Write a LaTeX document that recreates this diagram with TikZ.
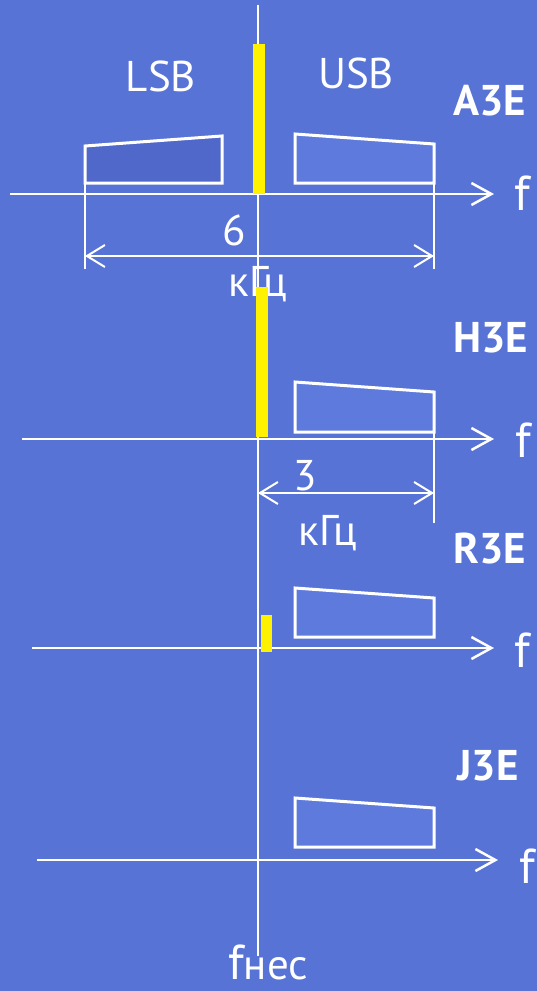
\documentclass[tikz,border=0pt]{standalone}
\usepackage{fontspec}
\setmainfont{PT Sans}
\usetikzlibrary{arrows.meta}
\definecolor{bg}{RGB}{88,115,214}
\definecolor{lsbfill}{RGB}{79,104,201}
\definecolor{usbfill}{RGB}{94,122,220}
\begin{document}
\begin{tikzpicture}[x=1pt,y=-1pt,
  lbl/.style={text=white,font=\fontsize{43}{43}\selectfont,inner sep=0pt,anchor=base},
  flbl/.style={text=white,font=\fontsize{49}{49}\selectfont,inner sep=0pt,anchor=base},
  mode/.style={text=white,font=\bfseries\fontsize{43}{43}\selectfont,inner sep=0pt,anchor=base},
  axis/.style={white,line width=2.5pt,-{Straight Barb[length=20pt,width=22pt]}},
  dim/.style={white,line width=2pt,{Straight Barb[length=18pt,width=22pt]}-{Straight Barb[length=18pt,width=22pt]}},
  ext/.style={white,line width=2pt},
  band/.style={draw=white,line width=3pt,line join=miter},
  carrier/.style={fill=yellow,draw=none}]
\fill[bg] (0,0) rectangle (537,991);
\useasboundingbox (0,0) rectangle (537,991);

% texts
\node[lbl] (lsb) at (161,91) {LSB};
\node[lbl] (usb) at (356,88) {USB};
\node[mode] (a3e) at (490,115) {A3E};
\node[mode] (h3e) at (491,352) {H3E};
\node[mode] (r3e) at (490,563) {R3E};
\node[mode] (j3e) at (488,780) {J3E};
\node[flbl] (fa) at (522,210) {f};
\node[flbl] (fh) at (523,457) {f};
\node[flbl] (fr) at (522,667) {f};
\node[flbl] (fj) at (527,883) {f};
\node[lbl] (six) at (234,245) {6};
\node[lbl] (khz1) at (258,296) {кГц};
\node[lbl] (three) at (305,490) {3};
\node[lbl] (khz2) at (328,545) {кГц};
\node[lbl] (fnes) at (268,979) {{\fontsize{49}{49}\selectfont f}нес};

% coordinates
\coordinate (vtop) at (258,5);
\coordinate (vbot) at (258,956);
\coordinate (a0) at (10,194);   \coordinate (a1) at (494,194);
\coordinate (h0) at (22,439);   \coordinate (h1) at (494,439);
\coordinate (r0) at (32,648);   \coordinate (r1) at (494,648);
\coordinate (j0) at (37,860);   \coordinate (j1) at (498,860);

% sidebands
\draw[band,fill=lsbfill] (85,146) -- (222,136) -- (222,183) -- (85,183) -- cycle;
\draw[band,fill=usbfill] (295,134) -- (434,144) -- (434,183) -- (295,183) -- cycle;
\draw[band,fill=usbfill] (295,382) -- (434,392) -- (434,432) -- (295,432) -- cycle;
\draw[band,fill=usbfill] (295,588) -- (434,598) -- (434,637) -- (295,637) -- cycle;
\draw[band,fill=usbfill] (295,798) -- (434,808) -- (434,847) -- (295,847) -- cycle;

% frequency axes
\draw[ext] (vtop) -- (vbot);
\draw[axis] (a0) -- (a1);
\draw[axis] (h0) -- (h1);
\draw[axis] (r0) -- (r1);
\draw[axis] (j0) -- (j1);

% dimension lines
\coordinate (d1l) at (85,183); \coordinate (d1lb) at (85,269);
\coordinate (d1r) at (434,183); \coordinate (d1rb) at (434,269);
\draw[ext] (d1l) -- (d1lb);
\draw[ext] (d1r) -- (d1rb);
\coordinate (d1a) at (85,256); \coordinate (d1b) at (434,256);
\draw[dim] (d1a) -- (d1b);
\coordinate (d2r) at (434,432); \coordinate (d2rb) at (434,523);
\draw[ext] (d2r) -- (d2rb);
\coordinate (d2a) at (258,493); \coordinate (d2b) at (434,493);
\draw[dim] (d2a) -- (d2b);

% carriers
\fill[carrier] (253,44) rectangle (265,194);
\fill[carrier] (256,287) rectangle (268,437);
\fill[carrier] (261,615) rectangle (272,652);
\end{tikzpicture}
\end{document}
